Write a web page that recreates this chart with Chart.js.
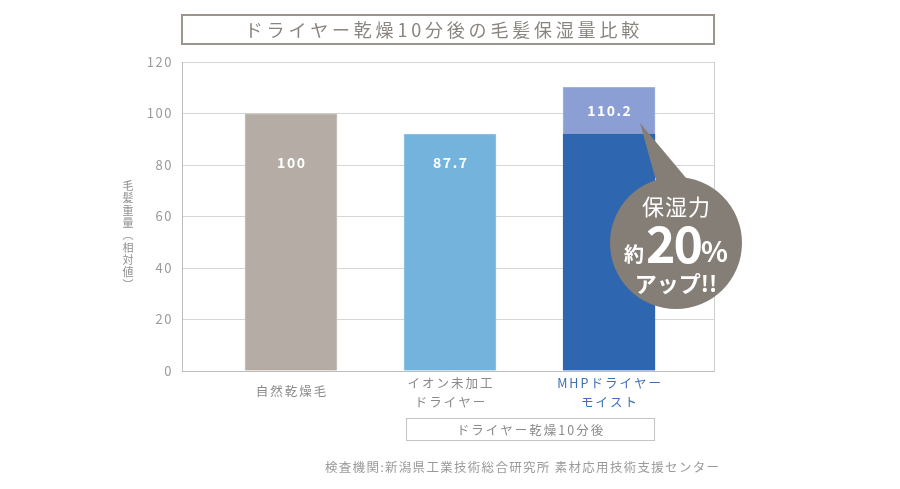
<!DOCTYPE html>
<html><head><meta charset="utf-8">
<script src="https://cdn.jsdelivr.net/npm/chart.js@4/dist/chart.umd.min.js"></script>
<style>html,body{margin:0;padding:0;background:#fff}#wrap{width:900px;height:489px}</style>
</head><body><div id="wrap"><canvas id="c" width="900" height="489"></canvas></div>
<script>
const chartTitle = 'ドライヤー乾燥10分後の毛髪保湿量比較';
const categories = [['自然乾燥毛'], ['イオン未加工', 'ドライヤー'], ['MHPドライヤー', 'モイスト']];
const baseValues = [100, 92, 92];
const increaseValues = [0, 0, 18.2];
const valueLabels = ['100', '87.7', '110.2'];
const yTicks = [0, 20, 40, 60, 80, 100, 120];
const yTitle = ['毛', '髪', '重', '量', '︵', '相', '対', '値', '︶'];
const groupLabel = 'ドライヤー乾燥10分後';
const sourceNote = '検査機関:新潟県工業技術総合研究所 素材応用技術支援センター';
const calloutTop = '保湿力';
const calloutMid = ['約', '20', '%'];
const calloutBottom = 'アップ!!';

const FONT = '"Noto Sans CJK JP", "Noto Sans", sans-serif';
const baseColors = ['#b4aca5', '#74b3db', '#2e66b0'];
const incColor = '#8b9fd4';

function spacedText(ctx, text, x, y, spacing, align) {
  ctx.letterSpacing = spacing + 'px';
  const w = ctx.measureText(text).width - spacing;
  let sx = x;
  if (align === 'center') sx = x - w / 2;
  else if (align === 'right') sx = x - w;
  ctx.textAlign = 'left';
  ctx.fillText(text, sx, y);
  ctx.letterSpacing = '0px';
  return w;
}

const decor = {
  id: 'decor',
  beforeDraw(chart) {
    chart.ctx.letterSpacing = '1.5px';
  },
  afterDatasetsDraw(chart) {
    const ctx = chart.ctx;
    const a = chart.chartArea;
    const xs = chart.scales.x, ys = chart.scales.y;
    ctx.save();
    ctx.letterSpacing = '0px';
    // right border
    ctx.strokeStyle = '#cfcfcf'; ctx.lineWidth = 1;
    ctx.beginPath(); ctx.moveTo(a.right + 0.5, a.top); ctx.lineTo(a.right + 0.5, a.bottom); ctx.stroke();

    // title box
    ctx.strokeStyle = '#9b958e'; ctx.lineWidth = 2;
    ctx.strokeRect(a.left, 15, a.right - a.left, 29);
    ctx.fillStyle = '#8a847e';
    ctx.font = '18px ' + FONT;
    ctx.textBaseline = 'middle';
    spacedText(ctx, chartTitle, 442, 30, 3.8, 'center');

    // y title (vertical)
    ctx.fillStyle = '#8f8f8f';
    ctx.font = '11px ' + FONT;
    ctx.textAlign = 'center';
    let ty = 186;
    yTitle.forEach(ch => { ctx.fillText(ch, 128, ty); ty += 12.3; });

    // x labels
    ctx.font = '12.5px ' + FONT;
    categories.forEach((lines, i) => {
      const cx = xs.getPixelForValue(i + 1);
      ctx.fillStyle = i === 2 ? '#3d6fb6' : '#8a8a8a';
      const lh = 19;
      const start = lines.length === 1 ? a.bottom + 20 : a.bottom + 12;
      lines.forEach((t, k) => spacedText(ctx, t, cx, start + k * lh, 2, 'center'));
    });

    // group box
    const gx1 = xs.getPixelForValue(2) - 44, gx2 = xs.getPixelForValue(3) + 45;
    ctx.strokeStyle = '#c4c4c4'; ctx.lineWidth = 1;
    ctx.strokeRect(gx1 + 0.5, 418.5, gx2 - gx1, 22);
    ctx.fillStyle = '#8a8a8a';
    ctx.font = '12.5px ' + FONT;
    spacedText(ctx, groupLabel, (gx1 + gx2) / 2, 430, 2, 'center');

    // source
    ctx.fillStyle = '#9a9a9a';
    ctx.font = '12.5px ' + FONT;
    spacedText(ctx, sourceNote, 719, 467, 1.3, 'right');

    // value labels
    const m0 = chart.getDatasetMeta(0), m1 = chart.getDatasetMeta(1);
    ctx.fillStyle = '#ffffff';
    ctx.font = 'bold 14px ' + FONT;
    valueLabels.forEach((t, i) => {
      const bx = m0.data[i].x;
      let y;
      if (increaseValues[i] > 0) {
        const el = m1.data[i];
        y = (el.y + el.base) / 2;
      } else {
        y = ys.getPixelForValue(81);
      }
      spacedText(ctx, t, bx, y, 1.5, 'center');
    });

    // callout
    const ccx = 676, ccy = 243, r = 66;
    ctx.fillStyle = '#857e76';
    ctx.beginPath();
    ctx.moveTo(640, 123);
    ctx.lineTo(660, 195);
    ctx.lineTo(692, 185);
    ctx.closePath(); ctx.fill();
    ctx.beginPath(); ctx.arc(ccx, ccy, r, 0, Math.PI * 2); ctx.fill();
    ctx.fillStyle = '#ffffff';
    ctx.font = '22px ' + FONT;
    spacedText(ctx, calloutTop, ccx, 207, 1, 'center');
    ctx.font = 'bold 20px ' + FONT;
    const w1 = ctx.measureText(calloutMid[0]).width;
    ctx.font = 'bold 50px ' + FONT;
    ctx.letterSpacing = '-2px';
    const w2 = ctx.measureText(calloutMid[1]).width;
    ctx.letterSpacing = '0px';
    ctx.font = 'bold 28px ' + FONT;
    const w3 = ctx.measureText(calloutMid[2]).width;
    const total = w1 + w2 + w3 + 2;
    let sx = ccx - total / 2;
    ctx.textAlign = 'left';
    ctx.textBaseline = 'alphabetic';
    ctx.font = 'bold 20px ' + FONT; ctx.fillText(calloutMid[0], sx, 262); sx += w1 + 2;
    ctx.font = 'bold 50px ' + FONT; ctx.letterSpacing = '-2px'; ctx.fillText(calloutMid[1], sx, 263); sx += w2;
    ctx.letterSpacing = '0px';
    ctx.font = 'bold 28px ' + FONT; ctx.fillText(calloutMid[2], sx, 262);
    ctx.textBaseline = 'middle';
    ctx.font = 'bold 22px ' + FONT;
    spacedText(ctx, calloutBottom, ccx, 284, 0, 'center');
    ctx.restore();
  }
};

new Chart(document.getElementById('c'), {
  type: 'bar',
  data: {
    datasets: [
      { label: 'base', data: baseValues.map((v, i) => ({ x: i + 1, y: v })), backgroundColor: baseColors, borderColor: ['#c9c3be', '#98c6e4', '#2e66b0'], borderWidth: 1, borderSkipped: 'bottom', barThickness: 92 },
      { label: 'increase', data: increaseValues.map((v, i) => ({ x: i + 1, y: v })), backgroundColor: incColor, borderColor: '#a3b3de', borderWidth: { top: 1, left: 1, right: 1, bottom: 0 }, barThickness: 92 }
    ]
  },
  options: {
    responsive: false,
    devicePixelRatio: 1,
    animation: false,
    layout: { padding: { top: 62, right: 186, bottom: 0, left: 0 } },
    plugins: { legend: { display: false }, tooltip: { enabled: false }, title: { display: false } },
    scales: {
      x: {
        type: 'linear', stacked: true, min: 0.3145, max: 3.66, offset: false,
        grid: { display: false, offset: false },
        border: { display: true, color: '#bdbdbd' },
        ticks: { display: false },
        afterFit(s) { s.height = 118; }
      },
      y: {
        stacked: true, min: 0, max: 120,
        afterBuildTicks(s) { s.ticks = yTicks.map(v => ({ value: v })); },
        ticks: { color: '#9a9a9a', font: { family: FONT, size: 13 }, padding: 9 },
        grid: { color: '#d6d6d6', drawTicks: false },
        border: { color: '#bdbdbd' },
        afterFit(s) { s.width = 182; }
      }
    }
  },
  plugins: [decor]
});
</script>
</body></html>
